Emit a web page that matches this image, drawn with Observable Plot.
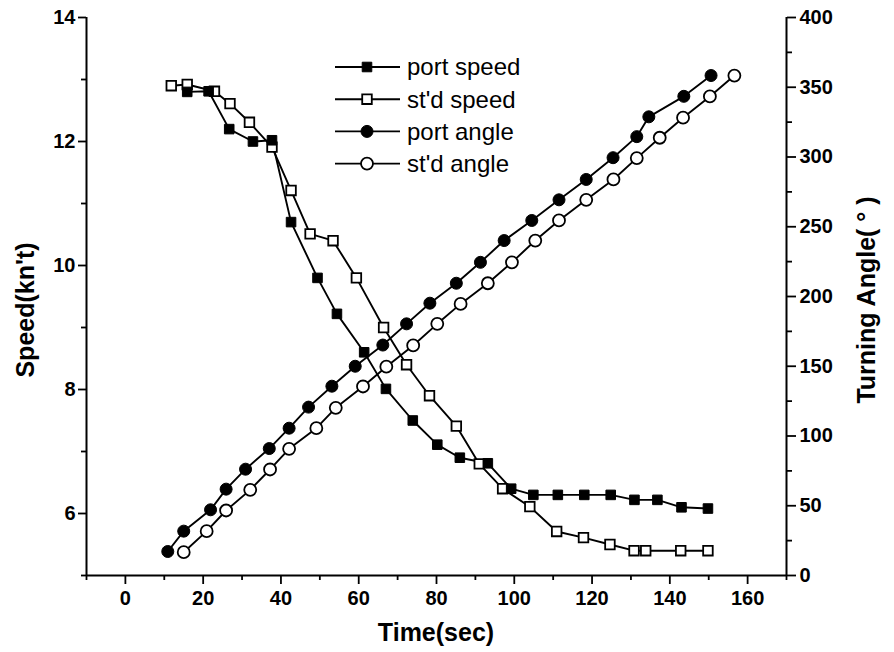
<!DOCTYPE html>
<html><head><meta charset="utf-8">
<script src="https://cdn.jsdelivr.net/npm/d3@7"></script>
<script src="https://cdn.jsdelivr.net/npm/@observablehq/plot@0.6"></script>
<style>
body{margin:0;background:#fff;}
#chart{position:relative;width:894px;height:652px;font-family:"Liberation Sans",Arial,sans-serif;color:#000;overflow:hidden;}
#chart svg{position:absolute;left:0;top:0;}
.title{position:absolute;font-weight:bold;font-size:25px;white-space:nowrap;line-height:1;}
</style></head><body><div id="chart"></div>
<script>
// ---- data ----
const portSpeedT = [15.9, 21.4, 26.7, 32.8, 37.7, 42.6, 49.4, 54.4, 61.4, 67.0, 73.9, 80.2, 86.0, 93.2, 99.2, 104.9, 111.2, 118.0, 124.8, 130.9, 136.8, 143.0, 149.8];
const portSpeedV = [12.80, 12.81, 12.20, 12.00, 12.02, 10.70, 9.80, 9.22, 8.60, 8.01, 7.50, 7.11, 6.90, 6.81, 6.40, 6.30, 6.30, 6.30, 6.30, 6.22, 6.22, 6.10, 6.08];
const stdSpeedT = [11.8, 15.9, 22.9, 26.9, 31.9, 37.7, 42.6, 47.5, 53.4, 59.4, 66.4, 72.3, 78.2, 85.1, 91.0, 97.0, 104.0, 110.9, 117.8, 124.6, 130.8, 133.8, 142.8, 149.8];
const stdSpeedV = [12.90, 12.92, 12.81, 12.61, 12.31, 11.91, 11.21, 10.51, 10.40, 9.80, 9.00, 8.40, 7.90, 7.41, 6.80, 6.40, 6.11, 5.71, 5.61, 5.50, 5.40, 5.40, 5.40, 5.40];
const portAngleT = [10.9, 15.0, 21.9, 25.9, 30.9, 37.0, 42.1, 47.1, 53.1, 59.1, 66.2, 72.3, 78.3, 85.1, 91.3, 97.4, 104.5, 111.5, 118.5, 125.4, 131.5, 134.6, 143.6, 150.6];
const portAngleV = [17.2, 31.8, 47.1, 61.9, 76.2, 91.0, 105.6, 120.7, 135.7, 150.0, 165.2, 180.4, 195.2, 209.5, 224.5, 240.1, 254.5, 269.3, 283.9, 299.5, 314.6, 328.8, 343.5, 358.4];
const stdAngleT = [15.0, 20.9, 25.9, 32.1, 37.2, 42.1, 49.1, 54.1, 61.1, 67.1, 74.0, 80.2, 86.2, 93.2, 99.4, 105.4, 111.5, 118.5, 125.5, 131.5, 137.4, 143.4, 150.3, 156.6];
const stdAngleV = [16.7, 31.8, 46.6, 61.4, 76.0, 90.8, 105.6, 120.2, 135.5, 149.7, 164.9, 180.4, 194.7, 209.5, 224.5, 240.1, 254.5, 269.3, 283.9, 299.2, 313.8, 328.2, 343.4, 358.4];

const xMajor = [0, 20, 40, 60, 80, 100, 120, 140, 160];
const xMinor = [-10, 10, 30, 50, 70, 90, 110, 130, 150, 170];
const speedMajor = [6, 8, 10, 12, 14];
const speedMinor = [5, 7, 9, 11, 13];
const angleMajor = [0, 50, 100, 150, 200, 250, 300, 350, 400];
const angleMinor = [25, 75, 125, 175, 225, 275, 325, 375];
const legendLabels = ["port speed", "st'd speed", "port angle", "st'd angle"];
const xLabel = "Time(sec)";
const yLeftLabel = "Speed(kn't)";
const yRightLabel = "Turning Angle( \u00B0 )";

const zip = (t, v) => t.map((x, i) => ({t: x, v: v[i]}));
const portSpeed = zip(portSpeedT, portSpeedV);
const stdSpeed = zip(stdSpeedT, stdSpeedV);
const portAngle = zip(portAngleT, portAngleV);
const stdAngle = zip(stdAngleT, stdAngleV);

const W = 894, H = 652;
const margins = {marginLeft: 86, marginRight: 108, marginTop: 17, marginBottom: 77};
const FONT = "'Liberation Sans', Arial, sans-serif";
const baseStyle = {fontFamily: FONT, fontSize: "20px", fontWeight: "bold", color: "black", background: "transparent", overflow: "visible"};
const LW = 1.9;

const speedPlot = Plot.plot({
  width: W, height: H, ...margins,
  x: {domain: [-10, 170]},
  y: {domain: [5, 14]},
  style: baseStyle,
  marks: [
    Plot.axisX({ticks: xMajor, tickSize: 9, tickPadding: 6, label: null, strokeWidth: 1.8}),
    Plot.axisX({ticks: xMinor, tickSize: 5, tickFormat: () => "", label: null, strokeWidth: 1.8}),
    Plot.axisY({ticks: speedMajor, tickSize: 8, tickPadding: 3, label: null, strokeWidth: 1.8}),
    Plot.axisY({ticks: speedMinor, tickSize: 5, tickFormat: () => "", label: null, strokeWidth: 1.8}),
    Plot.ruleY([5], {strokeWidth: 2}),
    Plot.ruleX([-10], {strokeWidth: 2}),
    Plot.line(stdSpeed, {x: "t", y: "v", stroke: "black", strokeWidth: LW}),
    Plot.line(portSpeed, {x: "t", y: "v", stroke: "black", strokeWidth: LW}),
    Plot.dot(stdSpeed, {x: "t", y: "v", symbol: "square", r: 5.4, fill: "white", stroke: "black", strokeWidth: 1.8}),
    Plot.dot(portSpeed, {x: "t", y: "v", symbol: "square", r: 5.4, fill: "black", stroke: "black", strokeWidth: 1})
  ]
});

const anglePlot = Plot.plot({
  width: W, height: H, ...margins,
  x: {domain: [-10, 170], axis: null},
  y: {domain: [0, 400]},
  style: baseStyle,
  marks: [
    Plot.axisY({anchor: "right", ticks: angleMajor, tickSize: 9, tickPadding: 4, label: null, strokeWidth: 1.8}),
    Plot.axisY({anchor: "right", ticks: angleMinor, tickSize: 5, tickFormat: () => "", label: null, strokeWidth: 1.8}),
    Plot.ruleX([170], {strokeWidth: 2}),
    Plot.line(portAngle, {x: "t", y: "v", stroke: "black", strokeWidth: LW}),
    Plot.line(stdAngle, {x: "t", y: "v", stroke: "black", strokeWidth: LW}),
    Plot.dot(portAngle, {x: "t", y: "v", symbol: "circle", r: 6, fill: "black", stroke: "black", strokeWidth: 1}),
    Plot.dot(stdAngle, {x: "t", y: "v", symbol: "circle", r: 6, fill: "white", stroke: "black", strokeWidth: 1.8})
  ]
});

const chart = document.getElementById("chart");
chart.appendChild(speedPlot);
chart.appendChild(anglePlot);

// legend
const legendStyles = [
  {symbol: d3.symbolSquare, fill: "black"},
  {symbol: d3.symbolSquare, fill: "white"},
  {symbol: d3.symbolCircle, fill: "black"},
  {symbol: d3.symbolCircle, fill: "white"}
];
const lg = d3.select(chart).append("svg").attr("width", W).attr("height", H)
  .style("pointer-events", "none");
const rowY0 = 67, rowDY = 32.2, lx0 = 335, lx1 = 400, lxm = 367;
legendLabels.forEach((lab, i) => {
  const y = rowY0 + i * rowDY;
  const g = lg.append("g");
  g.append("line").attr("x1", lx0).attr("x2", lx1).attr("y1", y).attr("y2", y).attr("stroke", "black").attr("stroke-width", LW);
  const isSq = legendStyles[i].symbol === d3.symbolSquare;
  const size = isSq ? Math.PI * 5.4 * 5.4 : Math.PI * 6 * 6;
  g.append("path").attr("d", d3.symbol(legendStyles[i].symbol, size)())
    .attr("transform", `translate(${lxm},${y})`)
    .attr("fill", legendStyles[i].fill).attr("stroke", "black").attr("stroke-width", legendStyles[i].fill === "white" ? 1.8 : 1);
  g.append("text").attr("x", 407).attr("y", y).attr("dy", "0.35em")
    .attr("font-family", FONT).attr("font-size", 24).text(lab);
});

// axis titles
function addTitle(text, x, y, rot) {
  const d = document.createElement("div");
  d.className = "title";
  d.textContent = text;
  d.style.left = x + "px";
  d.style.top = y + "px";
  d.style.transform = `translate(-50%,-50%)` + (rot ? ` rotate(${rot}deg)` : "");
  chart.appendChild(d);
}
addTitle(xLabel, 436, 632, 0);
addTitle(yLeftLabel, 25, 310, -90);
addTitle(yRightLabel, 866, 300, -90);
</script></body></html>
